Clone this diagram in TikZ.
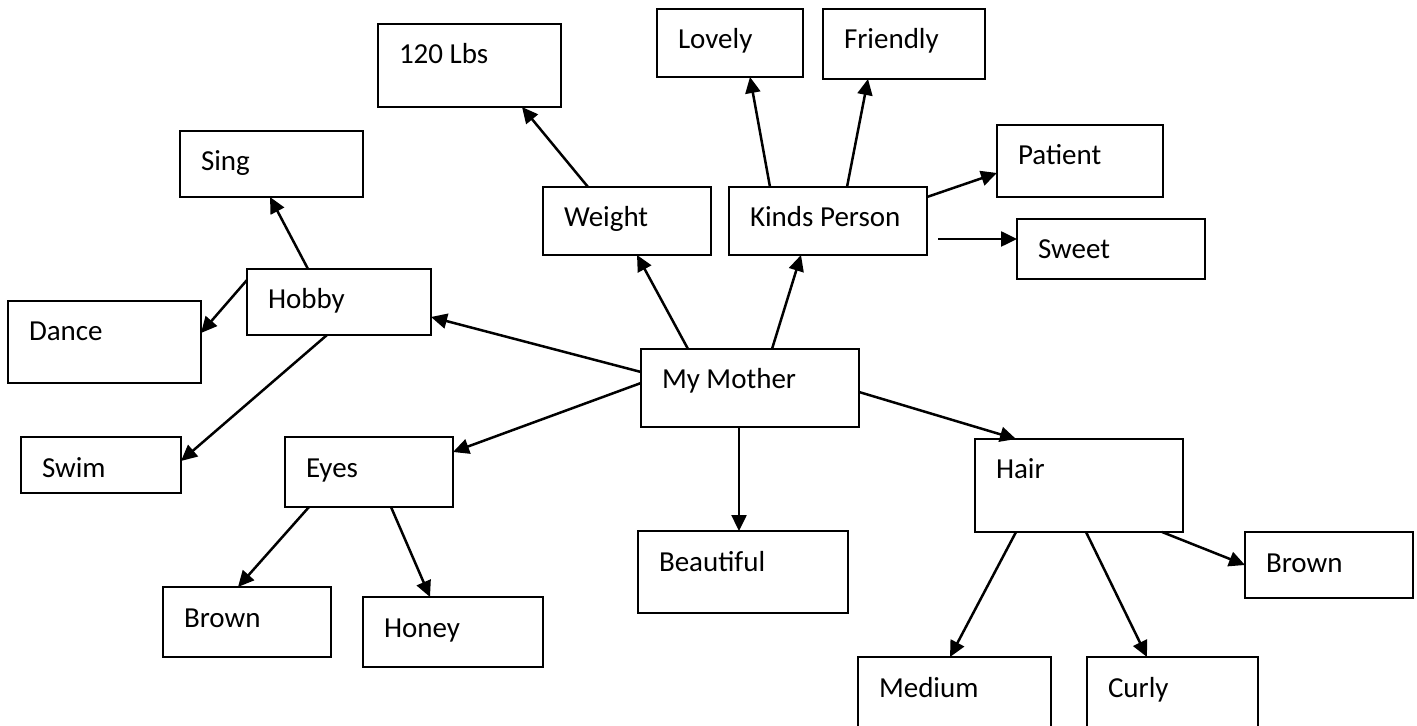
\documentclass[tikz,border=0pt]{standalone}
\usepackage{fontspec}
\setmainfont{Carlito}
\usetikzlibrary{calc,fit,arrows.meta}
\tikzset{
  box/.style={draw, line width=1.25pt, inner sep=0pt, outer sep=0pt, rectangle},
  lbl/.style={anchor=base west, inner sep=0pt, outer sep=0pt, font=\fontsize{14.5}{17}\selectfont},
  arr/.style={line width=1.25pt, -{Triangle[length=8pt,width=7.5pt]}}
}
\newcommand\mmBox[6]{%
  \node[box, fit={(#2,#3) (#4,#5)}] (#1) {};
  \node[lbl] (#1-t) at ($(#1.north west)+(21,40)$) {#6};}
\begin{document}
\begin{tikzpicture}[x=0.5pt,y=-0.5pt]
\fill[white] (0,0) rectangle (1417,726);
\useasboundingbox (0,0) rectangle (1417,726);
\mmBox{lbs}{378}{24}{561}{107}{120 Lbs}
\mmBox{lovely}{657}{9}{803}{77}{Lovely}
\mmBox{friendly}{823}{9}{985}{79}{Friendly}
\mmBox{sing}{180}{131}{363}{197}{Sing}
\mmBox{patient}{997}{125}{1163}{197}{Patient}
\mmBox{weight}{543}{187}{711}{255}{Weight}
\mmBox{kp}{729}{187}{927}{255}{Kinds Person}
\mmBox{sweet}{1017}{219}{1205}{279}{Sweet}
\mmBox{hobby}{247}{269}{431}{335}{Hobby}
\mmBox{dance}{8}{301}{201}{383}{Dance}
\mmBox{mother}{641}{349}{859}{427}{My Mother}
\mmBox{swim}{21}{437}{181}{493}{Swim}
\mmBox{eyes}{285}{437}{453}{507}{Eyes}
\mmBox{hair}{975}{439}{1183}{532}{Hair}
\mmBox{beautiful}{638}{531}{848}{613}{Beautiful}
\mmBox{browne}{163}{587}{331}{657}{Brown}
\mmBox{honey}{363}{597}{543}{667}{Honey}
\mmBox{brownh}{1245}{532}{1413}{598}{Brown}
\mmBox{medium}{858}{657}{1051}{745}{Medium}
\mmBox{curly}{1087}{657}{1258}{745}{Curly}
\coordinate (sweetstart) at (938,239);
% connectors
\draw[arr] ($(mother.north west)+(0,23)$) -- ($(hobby.north east)+(0,48)$);
\draw[arr] ($(mother.north west)+(0,34)$) -- ($(eyes.north east)+(0,15)$);
\draw[arr] ($(mother.north west)+(47,0)$) -- ($(weight.south west)+(94,0)$);
\draw[arr] ($(mother.north west)+(131,0)$) -- ($(kp.south west)+(72,0)$);
\draw[arr] ($(mother.north east)+(0,43)$) -- ($(hair.north west)+(41,0)$);
\draw[arr] ($(mother.south west)+(98,0)$) -- ($(beautiful.north west)+(101,0)$);
\draw[arr] ($(weight.north west)+(45,0)$) -- ($(lbs.south west)+(144,0)$);
\draw[arr] ($(kp.north west)+(41,0)$) -- ($(lovely.south west)+(93,0)$);
\draw[arr] ($(kp.north west)+(118,0)$) -- ($(friendly.south west)+(45,0)$);
\draw[arr] ($(kp.north east)+(0,10)$) -- ($(patient.north west)+(0,48)$);
\draw[arr] (sweetstart) -- ($(sweet.north west)+(0,20)$);
\draw[arr] ($(hobby.north west)+(61,0)$) -- ($(sing.south west)+(90,0)$);
\draw[arr] ($(hobby.north west)+(0,11)$) -- ($(dance.north east)+(0,32)$);
\draw[arr] ($(hobby.south west)+(80,0)$) -- ($(swim.north east)+(0,24)$);
\draw[arr] ($(eyes.south west)+(24,0)$) -- ($(browne.north west)+(75,0)$);
\draw[arr] ($(eyes.south west)+(106,0)$) -- ($(honey.north west)+(67,0)$);
\draw[arr] ($(hair.south west)+(41,0)$) -- ($(medium.north west)+(92,0)$);
\draw[arr] ($(hair.south west)+(111,0)$) -- ($(curly.north west)+(60,0)$);
\draw[arr] ($(hair.south west)+(187,0)$) -- ($(brownh.north west)+(0,33)$);
\end{tikzpicture}
\end{document}
